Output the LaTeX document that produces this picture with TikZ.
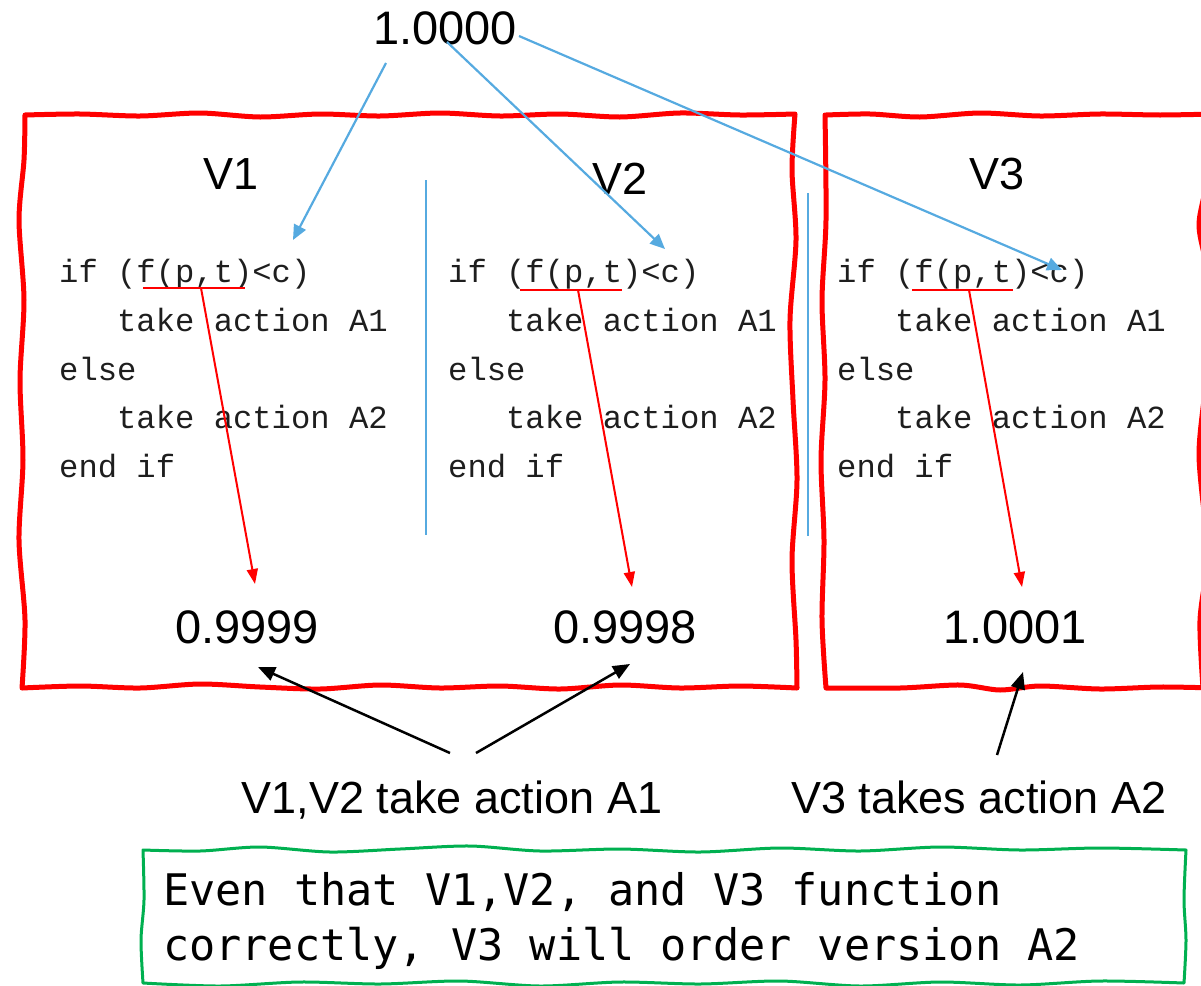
\documentclass[tikz,border=0pt]{standalone}
\usepackage{fontspec}
\setmainfont{Liberation Sans}
\newfontfamily\codefont{Liberation Mono}
\newfontfamily\notefont{DejaVu Sans Mono}
\usetikzlibrary{arrows.meta}

\definecolor{boxred}{RGB}{255,0,0}
\definecolor{linkblue}{RGB}{86,170,224}
\definecolor{notegreen}{RGB}{0,176,80}
\definecolor{codeink}{RGB}{30,30,30}

\tikzset{
  redframe/.style={draw=boxred, line width=5pt, line join=round},
  greenframe/.style={draw=notegreen, line width=3pt, line join=round},
  divider/.style={draw=linkblue, line width=2.5pt},
  bluearrow/.style={draw=linkblue, line width=2.2pt, -{Triangle[length=15pt,width=13pt]}},
  redarrow/.style={draw=boxred, line width=2pt, -{Triangle[length=15pt,width=11pt]}},
  blackarrow/.style={draw=black, line width=2.5pt, -{Triangle[length=17pt,width=14pt]}},
  underl/.style={draw=boxred, line width=2.5pt},
  sanslabel/.style={inner sep=0pt, anchor=base, font=\fontsize{45}{50}\selectfont},
  numlabel/.style={inner sep=0pt, anchor=base, font=\fontsize{47}{52}\selectfont},
  codeline/.style={inner sep=0pt, anchor=base west, text=codeink, font=\codefont\fontsize{32.2}{40}\selectfont},
  noteline/.style={inner sep=0pt, anchor=base west, font=\notefont\fontsize{43.5}{50}\selectfont},
}

\begin{document}
\begin{tikzpicture}[x=1pt,y=-1pt]
\useasboundingbox (0,0) rectangle (1201,985);

% ---- hand-drawn frames ----
\draw[redframe]
  plot[smooth] coordinates {(25,115) (80,114) (140,116) (200,113) (260,117) (320,114) (380,116) (440,113) (500,116) (560,114) (620,117) (680,113) (740,115) (795,114)}
  -- plot[smooth] coordinates {(795,114) (792,170) (796,240) (790,320) (793,400) (797,480) (792,560) (796,640) (797,688)}
  -- plot[smooth] coordinates {(797,688) (740,686) (680,688) (620,685) (560,689) (500,686) (440,688) (380,685) (320,689) (260,687) (200,684) (140,688) (80,686) (22,688)}
  -- plot[smooth] coordinates {(22,688) (25,620) (19,540) (23,460) (20,380) (24,300) (19,220) (24,160) (25,115)} -- cycle;

\draw[redframe]
  plot[smooth] coordinates {(826,115) (870,114) (920,117) (980,113) (1040,116) (1100,114) (1160,115) (1215,114)}
  -- (1215,688)
  -- plot[smooth] coordinates {(1215,688) (1160,687) (1100,689) (1040,686) (1000,690) (960,685) (900,688) (826,688)}
  -- plot[smooth] coordinates {(826,688) (822,620) (824,540) (821,460) (825,380) (822,300) (826,220) (825,115)} -- cycle;
\fill[white] (1204,118) rectangle (1216,684);
% right side of the V3 frame, bulging in at the edge
\draw[redframe]
  plot[smooth] coordinates {(1209,114) (1208,175) (1199,225) (1208,275) (1209,340) (1205,390) (1199,455) (1206,530) (1208,560) (1200,620) (1203,688)};

\draw[greenframe]
  plot[smooth] coordinates {(143,850) (200,851) (260,847) (330,852) (400,849) (470,846) (540,851) (620,849) (700,852) (780,848) (860,851) (940,847) (1020,850) (1100,848) (1186,850)}
  -- plot[smooth] coordinates {(1186,850) (1184,900) (1186,940) (1184,983)}
  -- plot[smooth] coordinates {(1184,983) (1100,981) (1020,985) (940,982) (860,986) (780,981) (700,984) (620,982) (540,986) (460,981) (380,984) (300,982) (220,986) (143,983)}
  -- plot[smooth] coordinates {(143,983) (141,940) (144,900) (143,850)} -- cycle;

% ---- dividers ----
\coordinate (d1a) at (426,180);
\coordinate (d1b) at (426,535);
\coordinate (d2a) at (808,193);
\coordinate (d2b) at (808,536);
\draw[divider] (d1a) -- (d1b);
\draw[divider] (d2a) -- (d2b);

% ---- titles and values ----
\node[numlabel] (one) at (445,44) {1.0000};
\node[sanslabel] (v1t) at (231,189) {V1};
\node[sanslabel] (v2t) at (620,194) {V2};
\node[sanslabel] (v3t) at (997,189) {V3};

\node[numlabel] (n1) at (247,643) {0.9999};
\node[numlabel] (n2) at (625,643) {0.9998};
\node[numlabel] (n3) at (1015,643) {1.0001};

\node[sanslabel] (lab12) at (452,813) {V1,V2 take action A1};
\node[sanslabel] (lab3) at (979,813) {V3 takes action A2};

% ---- code blocks ----
\foreach \cx/\k in {59/a, 448/b, 837/c} {
  \node[codeline] (\k1) at (\cx,282) {if (f(p,t)<c)};
  \node[codeline] (\k2) at (\cx,331) {\ \ \ take action A1};
  \node[codeline] (\k3) at (\cx,380) {else};
  \node[codeline] (\k4) at (\cx,428) {\ \ \ take action A2};
  \node[codeline] (\k5) at (\cx,477) {end if};
}

% ---- underlines of f(p,t) ----
\coordinate (ua1) at (143,288); \coordinate (ua2) at (245,288);
\coordinate (ub1) at (520,290); \coordinate (ub2) at (622,290);
\coordinate (uc1) at (912,290); \coordinate (uc2) at (1013,290);
\draw[underl] (ua1) -- (ua2);
\draw[underl] (ub1) -- (ub2);
\draw[underl] (uc1) -- (uc2);

% ---- red evaluation arrows ----
\coordinate (ra) at (201,288); \coordinate (rat) at (255,584);
\coordinate (rb) at (578,290); \coordinate (rbt) at (632,587);
\coordinate (rc) at (969,290); \coordinate (rct) at (1022,587);
\draw[redarrow] (ra) -- (rat);
\draw[redarrow] (rb) -- (rbt);
\draw[redarrow] (rc) -- (rct);

% ---- blue arrows from the shared input ----
\coordinate (bs1) at (386,63);  \coordinate (bt1) at (293,240);
\coordinate (bs2) at (447,42);  \coordinate (bt2) at (665,249);
\coordinate (bs3) at (519,36);  \coordinate (bt3) at (1062,270);
\draw[bluearrow] (bs1) -- (bt1);
\draw[bluearrow] (bs2) -- (bt2);
\draw[bluearrow] (bs3) -- (bt3);

% ---- black arrows from the labels ----
\coordinate (ks1) at (450,753); \coordinate (kt1) at (258,667);
\coordinate (ks2) at (476,753); \coordinate (kt2) at (630,664);
\coordinate (ks3) at (997,755); \coordinate (kt3) at (1023,672);
\draw[blackarrow] (ks1) -- (kt1);
\draw[blackarrow] (ks2) -- (kt2);
\draw[blackarrow] (ks3) -- (kt3);

% ---- note ----
\node[noteline] (note1) at (163,905) {Even that V1,V2, and V3 function};
\node[noteline] (note2) at (163,960) {correctly, V3 will order version A2};
\end{tikzpicture}
\end{document}
